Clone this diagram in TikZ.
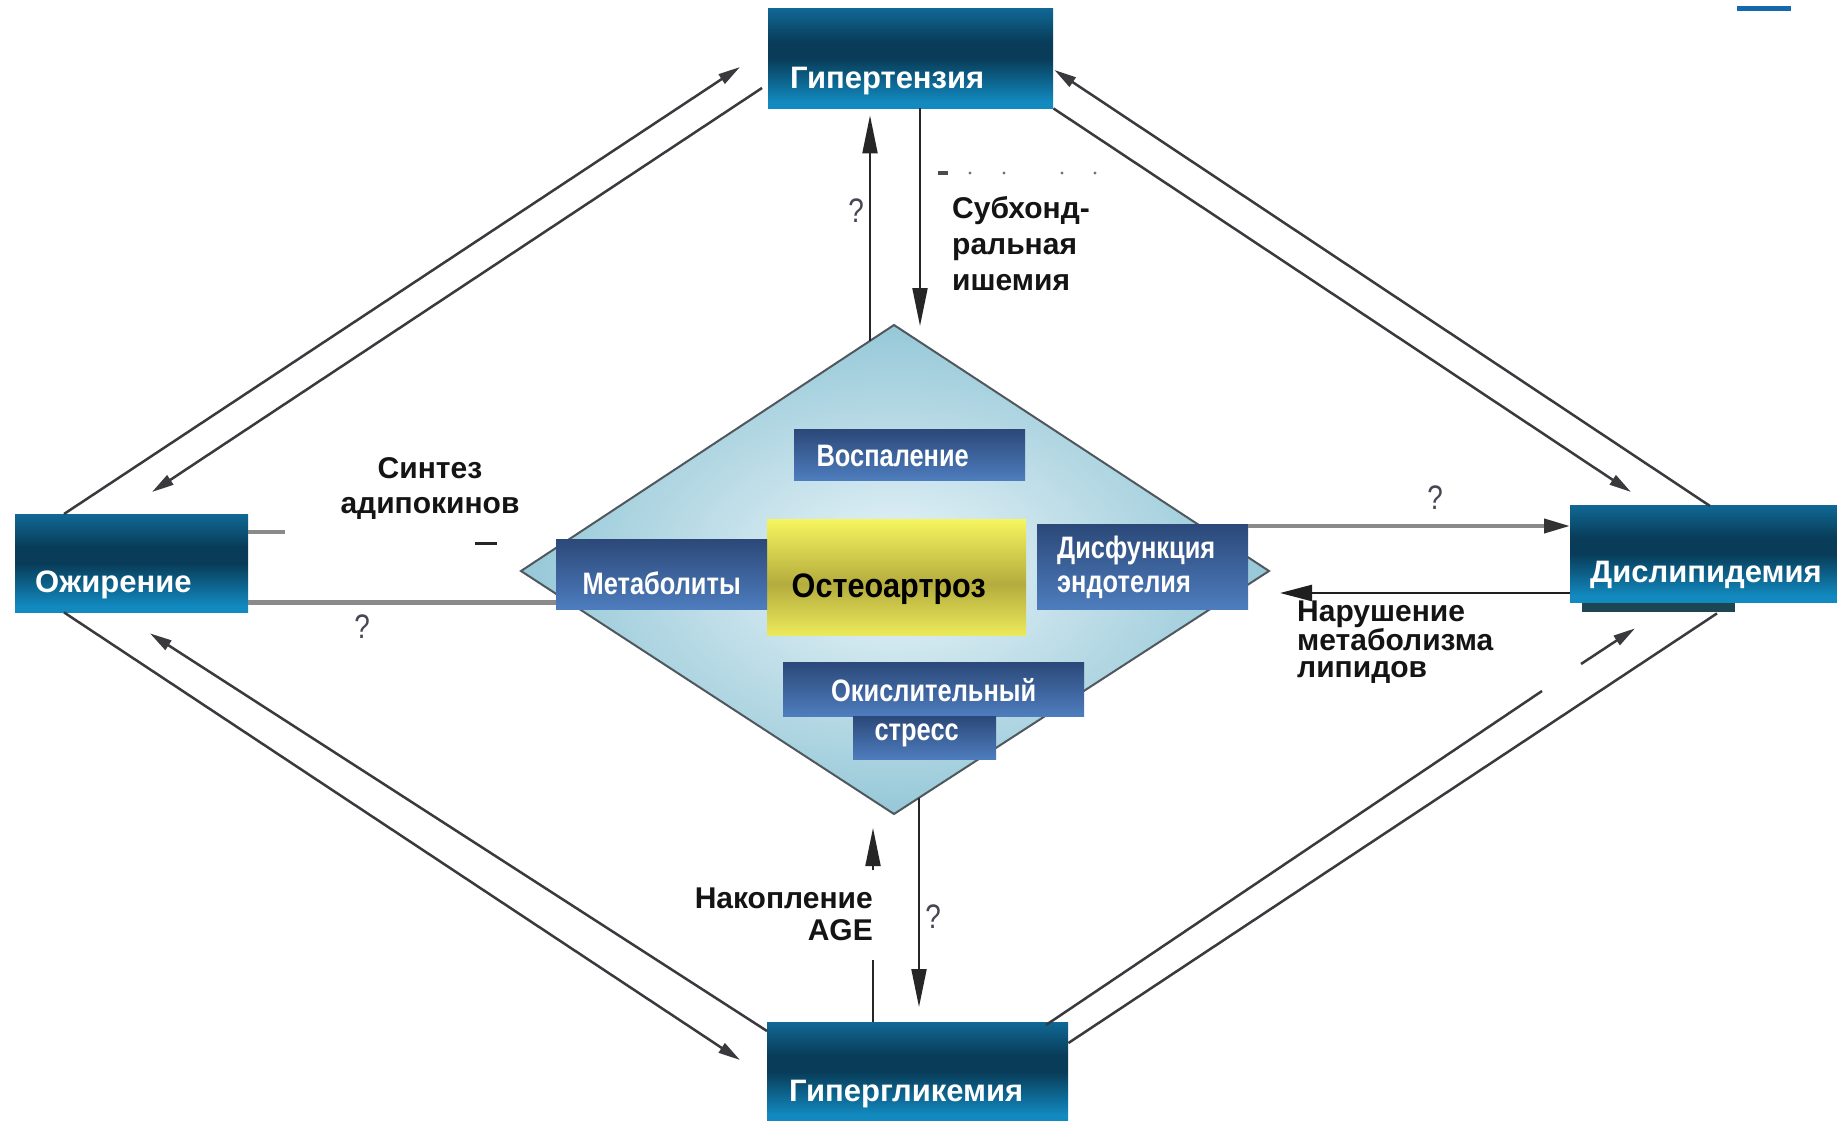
\documentclass[tikz,border=0pt]{standalone}
\usepackage{fontspec}
\setmainfont{Liberation Sans}
\newfontfamily\narrowfont[FakeStretch=0.82]{Liberation Sans}
\newfontfamily\semifont[FakeStretch=0.9]{Liberation Sans}
\usetikzlibrary{arrows.meta,calc}
\definecolor{obTop}{RGB}{30,148,204}
\definecolor{obMid}{RGB}{18,112,160}
\definecolor{obDark}{RGB}{8,60,88}
\definecolor{obBot}{RGB}{18,138,192}
\definecolor{ibTop}{RGB}{26,46,86}
\definecolor{ibBot}{RGB}{80,128,194}
\definecolor{ylL}{RGB}{248,248,96}
\definecolor{ylD}{RGB}{180,172,62}
\definecolor{dC}{RGB}{234,245,249}
\definecolor{dE}{RGB}{150,200,216}
\definecolor{dBorder}{RGB}{80,88,94}
\definecolor{lineDark}{RGB}{58,58,62}
\definecolor{lineGray}{RGB}{138,138,140}
\definecolor{qcol}{RGB}{70,70,86}
\definecolor{barblue}{RGB}{22,104,172}
\definecolor{shadowcol}{RGB}{30,70,82}
\pgfdeclareverticalshading{outerboxsh}{100bp}{color(0bp)=(obBot); color(28bp)=(obBot); color(50bp)=(obDark); color(58bp)=(obDark); color(78bp)=(obMid); color(100bp)=(obTop)}
\pgfdeclareverticalshading{innerboxsh}{100bp}{color(0bp)=(ibBot); color(22bp)=(ibBot); color(100bp)=(ibTop)}
\pgfdeclareverticalshading{yellowsh}{100bp}{color(0bp)=(ylL); color(20bp)=(ylL); color(47bp)=(ylD); color(76bp)=(ylL); color(100bp)=(ylL)}
\begin{document}
\begin{tikzpicture}[x=1pt,y=-1pt,
  outerbox/.style={shading=outerboxsh, draw=none, inner sep=0pt, anchor=north west},
  innerbox/.style={shading=innerboxsh, draw=none, inner sep=0pt, anchor=north west},
  yellowbox/.style={shading=yellowsh, draw=none, inner sep=0pt, anchor=north west},
  outerlbl/.style={text=white, font=\fontsize{31}{36}\selectfont\bfseries, anchor=base west, inner sep=0pt},
  innerlbl/.style={text=white, font=\narrowfont\fontsize{31}{34}\selectfont\bfseries, inner sep=0pt},
  osteolbl/.style={text=black, font=\semifont\fontsize{34}{38}\selectfont\bfseries, inner sep=0pt},
  blacklbl/.style={text=black!92, font=\fontsize{30}{36}\selectfont\bfseries, inner sep=0pt},
  qmark/.style={text=qcol, font=\narrowfont\fontsize{34}{40}\selectfont, inner sep=0pt},
  diag/.style={draw=lineDark, line width=2.5pt},
  diagarrow/.style={diag, -{Triangle[length=22pt,width=11pt]}},
  vline/.style={draw=black!85, line width=2pt},
  varrow/.style={vline, -{Triangle[length=38pt,width=15pt]}},
  grayline/.style={draw=lineGray, line width=5pt},
  diamondborder/.style={draw=dBorder, line width=2pt, line join=miter}
]
\useasboundingbox (0,0) rectangle (1837,1121);
\fill[white] (0,0) rectangle (1837,1121);

% small remnants
\fill[barblue] (1737,6) rectangle (1791,11);
\fill[shadowcol] (1582,600) rectangle (1735,612);
\fill[black!70] (938,171) rectangle (948,175);
\foreach \dx in {970,1004,1062,1095} \fill[black!55] (\dx,173) circle (1.6pt);

% outer boxes
\node[outerbox, minimum width=285pt, minimum height=100pt] (hyp) at (768,8) {};
\node[outerbox, minimum width=233pt, minimum height=98pt] (ob) at (15,514) {};
\node[outerbox, minimum width=267pt, minimum height=97pt] (dys) at (1570,505) {};
\node[outerbox, minimum width=301pt, minimum height=99pt] (hgl) at (767,1022) {};

\node[outerlbl] (hypL) at ($(hyp.south west)+(22,-20)$) {Гипертензия};
\node[outerlbl] (obL) at ($(ob.south west)+(20,-20)$) {Ожирение};
\node[outerlbl] (dysL) at ($(dys.south west)+(20,-20)$) {Дислипидемия};
\node[outerlbl] (hglL) at ($(hgl.south west)+(22,-20)$) {Гипергликемия};

% diamond
\coordinate (dT) at (894,325);
\coordinate (dR) at (1269,571);
\coordinate (dB) at (894,814);
\coordinate (dL) at (521,571);
\shade[inner color=dC, outer color=dE] (dT) -- (dR) -- (dB) -- (dL) -- cycle;
\draw[diamondborder] (dT) -- (dR) -- (dB) -- (dL) -- cycle;

% inner boxes
\node[yellowbox, minimum width=259pt, minimum height=116pt] (osteo) at (767,519) {};
\node[innerbox, minimum width=211pt, minimum height=70pt] (metab) at (556,539) {};
\node[innerbox, minimum width=211pt, minimum height=85pt] (dysf) at (1037,524) {};
\node[innerbox, minimum width=231pt, minimum height=51pt] (vosp) at (794,429) {};
\node[innerbox, minimum width=301pt, minimum height=54pt] (okis) at (783,662) {};
\node[innerbox, minimum width=143pt, minimum height=43pt] (stress) at (853,716) {};

\node[innerlbl] (vospL) at ($(vosp.center)+(-17,1)$) {Воспаление};
\node[innerlbl] (metabL) at ($(metab.center)+(0,9)$) {Метаболиты};
\node[osteolbl] (osteoL) at ($(osteo.center)+(-8,12)$) {Остеоартроз};
\node[innerlbl, anchor=west, align=left] (dysfL) at ($(dysf.west)+(20,1)$) {Дисфункция\\эндотелия};
\node[innerlbl] (okisL) at ($(okis.center)+(0,1)$) {Окислительный};
\node[innerlbl] (stressL) at ($(stress.center)+(-8,-2)$) {стресс};

% diagonal connectors
\draw[diagarrow] ($(ob.north west)+(49,0)$) -- ($(hyp.north west)+(-28,59)$);
\draw[diagarrow] ($(hyp.north west)+(-6,80)$) -- ($(ob.north west)+(137,-22)$);
\draw[diagarrow] ($(dys.north west)+(140,1)$) -- ($(hyp.north east)+(1,62)$);
\draw[diagarrow] (hyp.south east) -- ($(dys.north west)+(61,-13)$);
\draw[diagarrow] ($(ob.south west)+(49,0)$) -- ($(hgl.north west)+(-27,38)$);
\draw[diagarrow] ($(hgl.north west)+(0,9)$) -- ($(ob.south west)+(135,21)$);
\draw[diag] ($(hgl.north east)+(0,21)$) -- ($(dys.south west)+(147,11)$);
\coordinate (g1) at (1542,691);
\coordinate (g2) at (1581,664);
\draw[diag] ($(hgl.north west)+(279,3)$) -- (g1);
\draw[diagarrow] (g2) -- ($(dys.south west)+(65,26)$);

% vertical connectors
\coordinate (upTopStart) at (870,341);
\draw[varrow] (upTopStart) -- ($(hyp.south west)+(102,7)$);
\coordinate (downTopEnd) at (920,326);
\draw[varrow] ($(hyp.south west)+(152,0)$) -- (downTopEnd);
\coordinate (upBotBreak) at (873,960);
\coordinate (upBotA) at (873,870);
\coordinate (upBotTip) at (873,828);
\draw[vline] ($(hgl.north west)+(106,0)$) -- (upBotBreak);
\draw[varrow] (upBotA) -- (upBotTip);
\coordinate (downBotStart) at (919,798);
\draw[varrow] (downBotStart) -- ($(hgl.north west)+(152,-15)$);

% horizontal connectors
\coordinate (obShortEnd) at (285,532);
\draw[draw=lineGray, line width=4pt] ($(ob.north east)+(0,18)$) -- (obShortEnd);
\draw[grayline] ($(ob.south east)+(0,-10)$) -- ($(metab.south west)+(0,-7)$);
\coordinate (dashA) at (475,543);
\coordinate (dashB) at (497,543);
\draw[black!85, line width=3pt] (dashA) -- (dashB);
\draw[draw=lineGray, line width=4pt, -{Triangle[length=26pt,width=14pt,color=black!80]}] ($(dysf.north east)+(0,2)$) -- ($(dys.north west)+(0,21)$);
\coordinate (lipTip) at (1280,593);
\draw[draw=black!88, line width=2.5pt, -{Triangle[length=32pt,width=16pt]}] ($(dys.north west)+(0,88)$) -- (lipTip);

% outer texts
\node[blacklbl, anchor=west, align=left] (subL) at (952,244) {Субхонд-\\ральная\\ишемия};
\node[blacklbl, align=center, font=\fontsize{30}{35}\selectfont\bfseries] (sintL) at (430,489) {Синтез\\адипокинов};
\node[blacklbl, anchor=east, align=right, font=\fontsize{30}{32}\selectfont\bfseries] (nakL) at (873,914) {Накопление\\AGE};
\node[blacklbl, anchor=west, align=left, font=\fontsize{30}{27}\selectfont\bfseries] (narL) at (1297,642) {Нарушение\\метаболизма\\липидов};

% question marks
\node[qmark] (q1) at (856,211) {?};
\node[qmark] (q2) at (362,627) {?};
\node[qmark] (q3) at (1435,498) {?};
\node[qmark] (q4) at (933,917) {?};
\end{tikzpicture}
\end{document}
